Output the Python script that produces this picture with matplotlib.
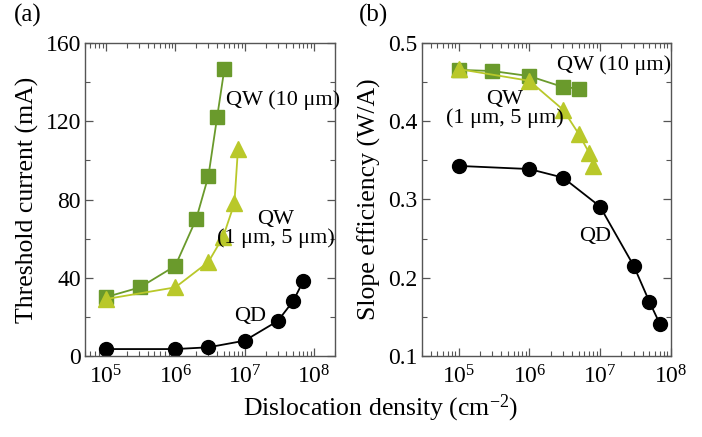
import numpy as np
import matplotlib
matplotlib.use("Agg")
import matplotlib.pyplot as plt
from matplotlib.ticker import LogLocator, MultipleLocator, NullFormatter

# =========================
# DATA
# =========================

# (a) threshold current, mA
qw10_x_a = [1e5, 3.1e5, 1e6, 2e6, 3e6, 4e6, 5.1e6]
qw10_ith = [30, 35, 46, 70, 92, 122, 147]

qw15_x_a = [1e5, 1e6, 3e6, 4.9e6, 7.1e6, 8e6]
qw15_ith = [29, 35, 48, 61, 78, 106]

qd_x = [1e5, 1e6, 3e6, 1e7, 3e7, 5e7, 7e7]
qd_ith = [3.4, 3.4, 4.3, 7.7, 17.8, 28, 38.3]

# (b) slope efficiency, W/A
qw10_x_b = [1e5, 3e5, 1e6, 3e6, 5e6]
qw10_se = [0.466, 0.4645, 0.458, 0.444, 0.442]

qw15_x_b = [1e5, 1e6, 3e6, 5e6, 7e6, 8e6]
qw15_se = [0.467, 0.452, 0.415, 0.384, 0.360, 0.343]

qd_se = [0.343, 0.339, 0.328, 0.291, 0.215, 0.169, 0.141]

# =========================
# STYLE
# =========================

plt.rcParams["font.family"] = ["Liberation Serif", "DejaVu Serif"]
plt.rcParams["mathtext.fontset"] = "custom"
plt.rcParams["mathtext.rm"] = "Liberation Serif"
plt.rcParams["mathtext.it"] = "Liberation Serif:italic"

dark_green = "#6a9a2c"
light_green = "#b9c82a"
frame = "#555555"

fig = plt.figure(figsize=(7.02, 4.37), dpi=100)
ax_a = fig.add_axes([85 / 702, 81.3 / 437, 250 / 702, 312.4 / 437])
ax_b = fig.add_axes([421.7 / 702, 81.3 / 437, 249 / 702, 312.4 / 437])


def style_axis(ax):
    ax.set_xscale("log")
    for s in ax.spines.values():
        s.set_color(frame)
        s.set_linewidth(1.0)
    ax.xaxis.set_major_locator(LogLocator(base=10, numticks=10))
    ax.xaxis.set_minor_locator(LogLocator(base=10, subs=np.arange(2, 10), numticks=10))
    ax.xaxis.set_minor_formatter(NullFormatter())
    ax.tick_params(which="both", direction="in", top=True, right=True,
                   color=frame, labelsize=17)
    ax.tick_params(which="major", length=6, width=0.9)
    ax.tick_params(which="minor", length=3.5, width=0.8)
    ax.tick_params(axis="x", pad=7)
    ax.tick_params(axis="y", pad=3)


# =========================
# (a) THRESHOLD CURRENT
# =========================

ax_a.plot(qw10_x_a, qw10_ith, "-s", color=dark_green, ms=9.5, lw=1.3)
ax_a.plot(qw15_x_a, qw15_ith, "-^", color=light_green, ms=11, lw=1.3)
ax_a.plot(qd_x, qd_ith, "-o", color="black", ms=10, lw=1.3)

style_axis(ax_a)
ax_a.set_xlim(5e4, 2e8)
ax_a.set_ylim(0, 160)
ax_a.yaxis.set_major_locator(MultipleLocator(40))
ax_a.yaxis.set_minor_locator(MultipleLocator(20))
ax_a.set_ylabel("Threshold current (mA)", fontsize=18.5, labelpad=5)

ax_a.text(0.564, 0.818, "QW (10 \u03bcm)", transform=ax_a.transAxes,
          fontsize=16, ha="left", va="center")
ax_a.text(0.764, 0.407, "QW\n(1 \u03bcm, 5 \u03bcm)", transform=ax_a.transAxes,
          fontsize=16, ha="center", va="center", linespacing=0.95)
ax_a.text(0.66, 0.124, "QD", transform=ax_a.transAxes,
          fontsize=16, ha="center", va="center")

# =========================
# (b) SLOPE EFFICIENCY
# =========================

ax_b.plot(qw10_x_b, qw10_se, "-s", color=dark_green, ms=9.5, lw=1.3)
ax_b.plot(qw15_x_b, qw15_se, "-^", color=light_green, ms=11, lw=1.3)
ax_b.plot(qd_x, qd_se, "-o", color="black", ms=10, lw=1.3)

style_axis(ax_b)
ax_b.set_xlim(3e4, 1e8)
ax_b.set_ylim(0.1, 0.5)
ax_b.yaxis.set_major_locator(MultipleLocator(0.1))
ax_b.yaxis.set_minor_locator(MultipleLocator(0.05))
ax_b.set_ylabel("Slope efficiency (W/A)", fontsize=18.5, labelpad=5)

ax_b.text(0.542, 0.93, "QW (10 \u03bcm)", transform=ax_b.transAxes,
          fontsize=16, ha="left", va="center")
ax_b.text(0.335, 0.791, "QW\n(1 \u03bcm, 5 \u03bcm)", transform=ax_b.transAxes,
          fontsize=16, ha="center", va="center", linespacing=0.95)
ax_b.text(0.696, 0.383, "QD", transform=ax_b.transAxes,
          fontsize=16, ha="center", va="center")

# =========================
# SHARED LABELS
# =========================

fig.text(381 / 702, 1 - 408 / 437, "Dislocation density (cm$^{-2}$)",
         fontsize=18.5, ha="center", va="center")
fig.text(28 / 702, 1 - 15 / 437, "(a)", fontsize=18, ha="center", va="center")
fig.text(373 / 702, 1 - 15 / 437, "(b)", fontsize=18, ha="center", va="center")

fig.savefig("out.png", dpi=100, facecolor="white")
